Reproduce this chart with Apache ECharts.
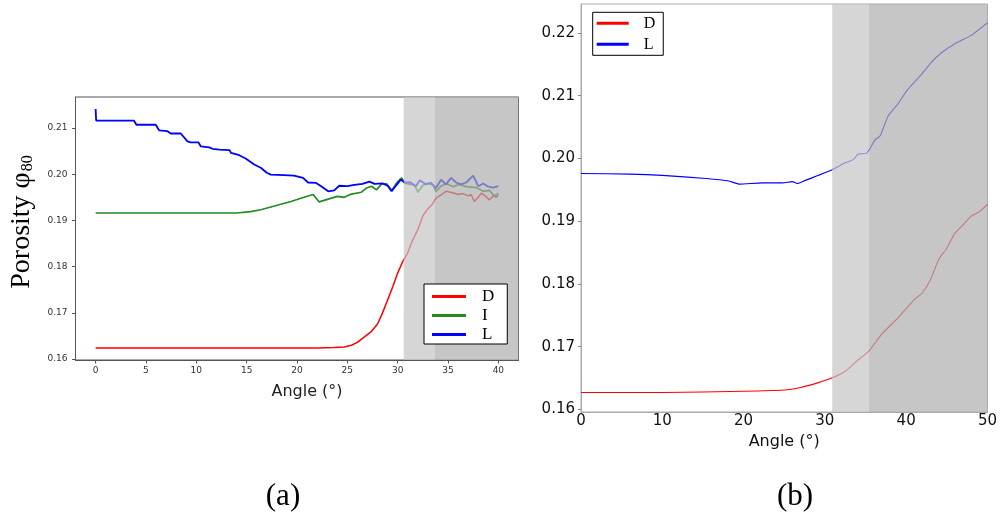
<!DOCTYPE html>
<html><head><meta charset="utf-8">
<script src="https://cdn.jsdelivr.net/npm/echarts@6/dist/echarts.min.js"></script>
<style>html,body{margin:0;padding:0;background:#fff}#c{width:1000px;height:524px}</style>
</head><body><div id="c"></div>
<script>
// ---------- Panel (a) data ----------
const aAngleD = [0, 5, 10, 15, 20, 22, 23.7, 24.7, 25.4, 26.0, 26.7, 27.4, 28.0, 28.5, 29.0, 29.5, 30.0, 30.5, 31.0, 31.5, 32.0, 32.5, 33.0, 33.4, 33.8, 34.3, 34.8, 35.5, 36.0, 36.5, 37.0, 37.3, 37.6, 38.0, 38.3, 38.8, 39.1, 39.5, 39.8, 40.0];
const aPorD = [0.1624, 0.1624, 0.1624, 0.1624, 0.1624, 0.1624, 0.1625, 0.1626, 0.1630, 0.1636, 0.1648, 0.1660, 0.1676, 0.1700, 0.1728, 0.1756, 0.1786, 0.1811, 0.1830, 0.1858, 0.1880, 0.1910, 0.1925, 0.1934, 0.1948, 0.1955, 0.1963, 0.1960, 0.1956, 0.1958, 0.1953, 0.1956, 0.1941, 0.1950, 0.1959, 0.1951, 0.1944, 0.1953, 0.1950, 0.1955];

const aAngleI = [0, 5, 10, 14, 15.4, 16.4, 17.4, 18.4, 19.4, 20.7, 21.6, 22.2, 23.1, 24.0, 24.7, 25.4, 26.4, 26.9, 27.4, 27.9, 28.4, 28.9, 29.4, 30.0, 30.4, 30.7, 31.2, 31.7, 32.0, 32.5, 33.0, 33.5, 33.8, 34.3, 34.8, 35.5, 36.1, 36.8, 37.8, 38.5, 39.1, 39.6, 40.0];
const aPorI = [0.1916, 0.1916, 0.1916, 0.1916, 0.1919, 0.1923, 0.1929, 0.1935, 0.1941, 0.1950, 0.1956, 0.1940, 0.1946, 0.1952, 0.1950, 0.1957, 0.1961, 0.1970, 0.1974, 0.1966, 0.1979, 0.1979, 0.1965, 0.1984, 0.1992, 0.1981, 0.1978, 0.1976, 0.1961, 0.1976, 0.1980, 0.1976, 0.1963, 0.1974, 0.1980, 0.1973, 0.1978, 0.1973, 0.1971, 0.1963, 0.1965, 0.1953, 0.1959];

const aAngleL = [0, 0.05, 3.8, 4.05, 5.97, 6.3, 7.13, 7.46, 8.46, 9.12, 9.45, 10.2, 10.45, 11.3, 11.6, 12.3, 13.3, 13.45, 14.26, 14.9, 15.75, 16.4, 17.0, 17.4, 18.7, 19.7, 20.6, 21.1, 21.9, 22.4, 23.1, 23.7, 24.2, 25.0, 25.7, 26.5, 27.2, 27.7, 28.5, 29.0, 29.4, 29.9, 30.3, 30.7, 31.3, 31.8, 32.2, 32.8, 33.3, 33.8, 34.3, 34.8, 35.3, 35.8, 36.3, 36.8, 37.5, 38.0, 38.5, 39.0, 39.5, 40.0];
const aPorL = [0.2141, 0.2116, 0.2116, 0.2107, 0.2107, 0.2095, 0.2093, 0.2088, 0.2088, 0.2071, 0.2069, 0.2069, 0.2060, 0.2058, 0.2055, 0.2053, 0.2052, 0.2046, 0.2041, 0.2034, 0.2021, 0.2014, 0.2003, 0.1999, 0.1998, 0.1997, 0.1992, 0.1982, 0.1981, 0.1974, 0.1963, 0.1965, 0.1975, 0.1974, 0.1977, 0.1979, 0.1984, 0.1979, 0.1980, 0.1975, 0.1963, 0.1977, 0.1988, 0.1982, 0.1982, 0.1974, 0.1987, 0.1978, 0.1982, 0.1970, 0.1988, 0.1978, 0.1992, 0.1982, 0.1978, 0.1982, 0.1997, 0.1974, 0.1980, 0.1973, 0.1971, 0.1974];

const aXTicks = [0, 5, 10, 15, 20, 25, 30, 35, 40];
const aYTicks = [0.16, 0.17, 0.18, 0.19, 0.20, 0.21];
const aShadeLight = [30.6, 33.7];
const aShadeDark = [33.7, 42];

// ---------- Panel (b) data ----------
const bAngleD = [0, 10, 20, 25, 27, 29, 31, 32.5, 34, 35.4, 37, 39, 41, 42, 43, 44, 45, 46, 47, 48, 49, 50];
const bPorD = [0.1627, 0.1627, 0.1629, 0.1631, 0.1635, 0.1642, 0.1651, 0.1661, 0.1678, 0.1693, 0.1720, 0.1746, 0.1775, 0.1786, 0.1807, 0.1839, 0.1857, 0.1881, 0.1894, 0.1908, 0.1915, 0.1927];

const bAngleL = [0, 6, 10, 15.4, 18.2, 19.5, 22.3, 24.8, 26.0, 26.6, 27.6, 29.2, 30.9, 32.5, 33.5, 34.1, 35.1, 36.2, 36.8, 37.8, 39.0, 40.2, 41.7, 43.1, 44.3, 45.9, 48.0, 49.2, 50];
const bPorL = [0.1976, 0.1975, 0.1973, 0.1968, 0.1964, 0.1959, 0.1961, 0.1961, 0.1963, 0.1960, 0.1965, 0.1973, 0.1982, 0.1993, 0.1998, 0.2007, 0.2008, 0.2030, 0.2036, 0.2068, 0.2087, 0.2110, 0.2131, 0.2153, 0.2168, 0.2182, 0.2196, 0.2208, 0.2216];

const bYTicks = [0.16, 0.17, 0.18, 0.19, 0.20, 0.21, 0.22];
const bShadeLight = [30.9, 35.4];
const bShadeDark = [35.4, 50];

const zip = (xs, ys) => xs.map((x, i) => [x, ys[i]]);

const RED = '#ff0000', GREEN = '#228b22', BLUE = '#0000ff';
const LIGHT = 'rgba(196,196,196,0.7)', DARK = 'rgba(174,174,174,0.7)';
const SANS = 'DejaVu Sans', SERIF = 'Liberation Serif';

const chart = echarts.init(document.getElementById('c'), null, {renderer: 'canvas'});
const option = {
  animation: false,
  backgroundColor: '#ffffff',
  grid: [
    {left: 75.5, top: 97, width: 443, height: 263, show: true, borderColor: '#555', borderWidth: 1, backgroundColor: 'transparent'},
    {left: 581, top: 4, width: 409, height: 408, show: true, borderColor: '#aaaaaa', borderWidth: 1, backgroundColor: 'transparent'}
  ],
  xAxis: [
    {gridIndex: 0, type: 'value', min: -2, max: 42,
     axisLine: {show: true, onZero: false, lineStyle: {color: '#555', width: 1}}, splitLine: {show: false},
     axisTick: {show: true, length: 3.5, lineStyle: {color: '#555'}, customValues: aXTicks},
     axisLabel: {customValues: aXTicks, fontSize: 9, color: '#333', margin: 6, fontFamily: SANS},
     name: 'Angle (°)', nameLocation: 'middle', nameGap: 24,
     nameTextStyle: {fontSize: 16, color: '#222', fontFamily: SANS, padding: [0, 0, 0, 20]}},
    {gridIndex: 1, type: 'value', min: 0, max: 50, interval: 10,
     axisLine: {show: true, onZero: false, lineStyle: {color: '#aaaaaa', width: 1}}, splitLine: {show: false},
     axisTick: {show: false},
     axisLabel: {fontSize: 15, color: '#111', margin: 2, fontFamily: SANS},
     name: 'Angle (°)', nameLocation: 'middle', nameGap: 19,
     nameTextStyle: {fontSize: 16, color: '#111', fontFamily: SANS}}
  ],
  yAxis: [
    {gridIndex: 0, type: 'value', min: 0.1598, max: 0.2167,
     axisLine: {show: true, onZero: false, lineStyle: {color: '#555', width: 1}}, splitLine: {show: false},
     axisTick: {show: true, length: 3.5, lineStyle: {color: '#555'}, customValues: aYTicks},
     axisLabel: {customValues: aYTicks, fontSize: 9, color: '#333', margin: 8, fontFamily: SANS,
                 formatter: v => v.toFixed(2)}},
    {gridIndex: 1, type: 'value', min: 0.1596, max: 0.2246,
     axisLine: {show: true, onZero: false, lineStyle: {color: '#aaaaaa', width: 1}}, splitLine: {show: false},
     axisTick: {show: true, length: 3, lineStyle: {color: '#888'}, customValues: bYTicks},
     axisLabel: {customValues: bYTicks, fontSize: 15, color: '#111', margin: 6, fontFamily: SANS,
                 formatter: v => v.toFixed(2)}}
  ],
  legend: [
    {left: 424, top: 284, orient: 'vertical', z: 30,
     data: [{name: 'D', icon: 'rect'}, {name: 'I', icon: 'rect'}, {name: 'L', icon: 'rect'}],
     itemWidth: 34, itemHeight: 3, itemGap: 2, padding: [4, 13, 1, 8],
     backgroundColor: '#fff', borderColor: '#000', borderWidth: 1, borderRadius: 0,
     selectedMode: false,
     textStyle: {fontFamily: SERIF, fontSize: 17, color: '#000', lineHeight: 17, padding: [0, 0, 0, 11]}},
    {left: 592.7, top: 12.3, orient: 'vertical', z: 30,
     data: [{name: 'D', icon: 'rect'}, {name: 'L', icon: 'rect'}],
     itemWidth: 32, itemHeight: 3, itemGap: 4, padding: [2.5, 8, 2.5, 4],
     backgroundColor: '#fff', borderColor: '#000', borderWidth: 1, borderRadius: 0,
     selectedMode: false,
     textStyle: {fontFamily: SERIF, fontSize: 16, color: '#000', lineHeight: 17, padding: [0, 0, 0, 10]}}
  ],
  series: [
    {name: 'D', type: 'line', xAxisIndex: 0, yAxisIndex: 0, data: zip(aAngleD, aPorD), symbol: 'none',
     lineStyle: {color: RED, width: 1.5}, itemStyle: {color: RED}, z: 2},
    {name: 'I', type: 'line', xAxisIndex: 0, yAxisIndex: 0, data: zip(aAngleI, aPorI), symbol: 'none',
     lineStyle: {color: GREEN, width: 1.7}, itemStyle: {color: GREEN}, z: 3},
    {name: 'L', type: 'line', xAxisIndex: 0, yAxisIndex: 0, data: zip(aAngleL, aPorL), symbol: 'none',
     lineStyle: {color: BLUE, width: 1.8}, itemStyle: {color: BLUE}, z: 4},
    {name: 'shadeA', type: 'line', xAxisIndex: 0, yAxisIndex: 0, data: [], z: 10, silent: true,
     markArea: {silent: true, z: 10, data: [
       [{xAxis: aShadeLight[0], itemStyle: {color: LIGHT}}, {xAxis: aShadeLight[1]}],
       [{xAxis: aShadeDark[0], itemStyle: {color: DARK}}, {xAxis: aShadeDark[1]}]
     ]}},
    {name: 'D', type: 'line', xAxisIndex: 1, yAxisIndex: 1, data: zip(bAngleD, bPorD), symbol: 'none',
     smooth: 0.2, lineStyle: {color: RED, width: 1.1}, itemStyle: {color: RED}, z: 2},
    {name: 'L', type: 'line', xAxisIndex: 1, yAxisIndex: 1, data: zip(bAngleL, bPorL), symbol: 'none',
     smooth: 0.2, lineStyle: {color: BLUE, width: 1.1}, itemStyle: {color: BLUE}, z: 2},
    {name: 'shadeB', type: 'line', xAxisIndex: 1, yAxisIndex: 1, data: [], z: 10, silent: true,
     markArea: {silent: true, z: 10, data: [
       [{xAxis: bShadeLight[0], itemStyle: {color: LIGHT}}, {xAxis: bShadeLight[1]}],
       [{xAxis: bShadeDark[0], itemStyle: {color: DARK}}, {xAxis: bShadeDark[1]}]
     ]}}
  ],
  graphic: [
    {type: 'text', x: 22, y: 222, rotation: Math.PI / 2, z: 50,
     style: {text: '{a|Porosity φ}{s|80}', align: 'center', verticalAlign: 'middle',
             rich: {a: {fontFamily: SERIF, fontSize: 28, fill: '#000'},
                    s: {fontFamily: SERIF, fontSize: 16, fill: '#000', verticalAlign: 'bottom', padding: [10, 0, 0, 1]}}}},
    {type: 'text', x: 283, y: 497, z: 50,
     style: {text: '(a)', fontFamily: SERIF, fontSize: 31, fill: '#000', align: 'center', verticalAlign: 'middle'}},
    {type: 'text', x: 795, y: 497, z: 50,
     style: {text: '(b)', fontFamily: SERIF, fontSize: 31, fill: '#000', align: 'center', verticalAlign: 'middle'}}
  ]
};
chart.setOption(option);
</script>
</body></html>
